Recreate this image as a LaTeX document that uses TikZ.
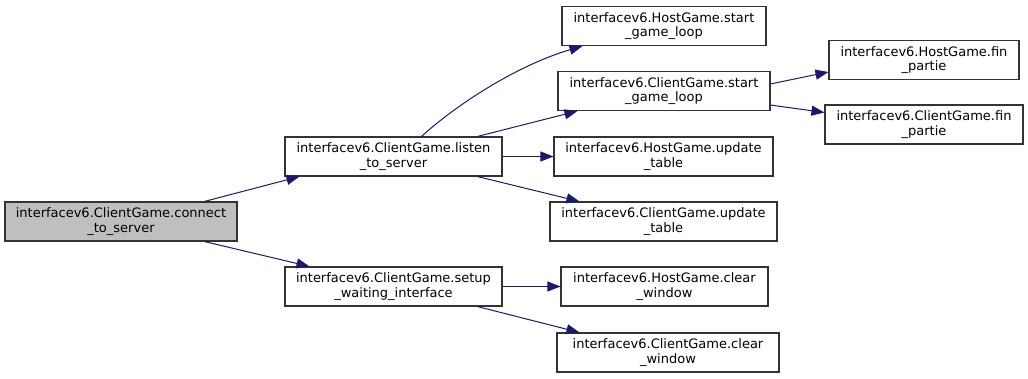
\documentclass[tikz,border=0pt]{standalone}
\usepackage{fontspec}
\setmainfont{DejaVu Sans}
\usetikzlibrary{arrows.meta,calc}
\definecolor{edgeblue}{HTML}{191970}
\definecolor{boxline}{HTML}{333333}
\definecolor{rootfill}{HTML}{BFBFBF}
\begin{document}
\begin{tikzpicture}[x=1pt,y=-1pt,
  fn/.style={draw=boxline,line width=1.1pt,fill=white,rectangle,align=center,
    inner sep=0pt,minimum height=39pt,font=\fontsize{13}{14.5}\selectfont},
  root/.style={fn,fill=rootfill},
  call/.style={draw=edgeblue,line width=1pt,-{Triangle[length=13pt,width=10pt]}}]
\useasboundingbox (0,0) rectangle (1028,379);
% caller
\node[root,minimum width=232pt] (conn) at (121,221.5) {interfacev6.ClientGame.connect\\\_to\_server};
% first level
\node[fn,minimum width=217pt] (listen) at (393.5,156.5) {interfacev6.ClientGame.listen\\\_to\_server};
\node[fn,minimum width=217pt] (setup) at (393.5,286.5) {interfacev6.ClientGame.setup\\\_waiting\_interface};
% second level
\node[fn,minimum width=204pt] (hstart) at (664,26) {interfacev6.HostGame.start\\\_game\_loop};
\node[fn,minimum width=212pt] (cstart) at (664,91) {interfacev6.ClientGame.start\\\_game\_loop};
\node[fn,minimum width=219pt] (hupd) at (663.5,156.5) {interfacev6.HostGame.update\\\_table};
\node[fn,minimum width=227pt] (cupd) at (663.5,221.5) {interfacev6.ClientGame.update\\\_table};
\node[fn,minimum width=207pt] (hclear) at (664.5,286.5) {interfacev6.HostGame.clear\\\_window};
\node[fn,minimum width=222pt] (cclear) at (668,352.5) {interfacev6.ClientGame.clear\\\_window};
% third level
\node[fn,minimum width=190pt] (hfin) at (924,60) {interfacev6.HostGame.fin\\\_partie};
\node[fn,minimum width=198pt] (cfin) at (924,124.5) {interfacev6.ClientGame.fin\\\_partie};
% calls
\draw[call] ($(conn.north west)+(200,0)$) -- ($(listen.south west)+(15,0)$);
\draw[call] ($(conn.south west)+(200,0)$) -- ($(setup.north west)+(25,0)$);
\draw[call] ($(listen.north west)+(137,0)$) .. controls (455,106) and (515,66) .. ($(hstart.south west)+(21,0)$);
\draw[call] ($(listen.north west)+(193,0)$) -- ($(cstart.south west)+(20,0)$);
\draw[call] (listen.east) -- (hupd.west);
\draw[call] ($(listen.south west)+(193,0)$) -- ($(cupd.north west)+(30,0)$);
\draw[call] (setup.east) -- (hclear.west);
\draw[call] ($(setup.south west)+(193,0)$) -- ($(cclear.north west)+(23,0)$);
\draw[call] ($(cstart.north east)+(0,13)$) -- ($(hfin.west)+(0,12)$);
\draw[call] ($(cstart.south east)+(0,-6)$) -- ($(cfin.west)+(0,-12)$);
\end{tikzpicture}
\end{document}
